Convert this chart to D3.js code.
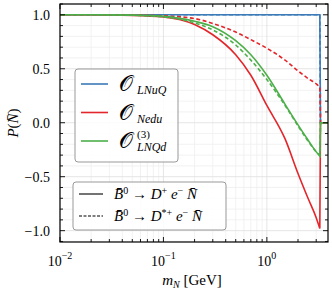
<!DOCTYPE html>
<html>
<head>
<meta charset="utf-8">
<script src="https://cdn.jsdelivr.net/npm/d3@7"></script>
<style>
  body { margin: 0; background: #fff; }
</style>
</head>
<body>
<div id="chart"></div>
<script>
const masses = [0.01, 0.02, 0.05, 0.1, 0.2, 0.3, 0.5, 0.7, 1.0, 1.5, 2.0, 2.5, 3.0, 3.25];
// kinematic end point and the far edge (curves drop to 0 there)
const endMass = [3.3, 3.9];

const lnuqSolid  = [1, 1, 1, 1, 1, 1, 1, 1, 1, 1, 1, 1, 1, 1];
const lnuqDashed = [1, 1, 1, 1, 1, 1, 1, 1, 1, 1, 1, 1, 1, 1];
const neduSolid  = [1.0, 1.0, 0.995, 0.98, 0.91, 0.815, 0.63, 0.44, 0.16, -0.15, -0.47, -0.70, -0.88, -0.98];
const neduDashed = [1.0, 1.0, 0.998, 0.99, 0.965, 0.92, 0.84, 0.77, 0.69, 0.58, 0.48, 0.41, 0.36, 0.33];
const lnqdSolid  = [1.0, 1.0, 0.997, 0.985, 0.94, 0.89, 0.76, 0.63, 0.44, 0.17, -0.02, -0.16, -0.27, -0.31];
const lnqdDashed = [1.0, 1.0, 0.996, 0.98, 0.925, 0.86, 0.72, 0.58, 0.40, 0.16, -0.03, -0.17, -0.27, -0.30];

const yTicks = [1.0, 0.5, 0.0, -0.5, -1.0];
const xTicks = [0.01, 0.1, 1];
const xTickExp = ["−2", "−1", "0"];

const blue = "#3b7bb8", red = "#e3262b", green = "#4daf4a";
const serif = "'Liberation Serif', 'Times New Roman', serif";

var margin = {top: 4, right: 4, bottom: 48, left: 60},
    width = 332 - margin.left - margin.right,
    height = 290 - margin.top - margin.bottom;

var svg = d3.select("#chart").append("svg")
    .attr("width", 332).attr("height", 290)
    .style("font-family", serif);
var g = svg.append("g")
    .attr("transform", "translate(" + margin.left + "," + margin.top + ")");

var x = d3.scaleLog().domain([0.01, 3.9]).range([0, width]);
var y = d3.scaleLinear().domain([-1.105, 1.1]).range([height, 0]);

// minor tick positions
var xMinor = [];
[0.01, 0.1, 1].forEach(function(d) {
  for (var k = 2; k <= 9; k++) { if (d * k <= 3.9) xMinor.push(d * k); }
});
var yMinor = d3.range(-11, 12).map(function(i) { return i / 10; })
  .filter(function(v) { return Math.abs(v * 2 - Math.round(v * 2)) > 1e-6; });

// grid
g.append("g").selectAll("line").data(xMinor).enter().append("line")
  .attr("x1", d => x(d)).attr("x2", d => x(d)).attr("y1", 0).attr("y2", height)
  .attr("stroke", "#efefef").attr("stroke-width", 0.8);
g.append("g").selectAll("line").data(yMinor).enter().append("line")
  .attr("y1", d => y(d)).attr("y2", d => y(d)).attr("x1", 0).attr("x2", width)
  .attr("stroke", "#efefef").attr("stroke-width", 0.8);
g.append("g").selectAll("line").data(xTicks).enter().append("line")
  .attr("x1", d => x(d)).attr("x2", d => x(d)).attr("y1", 0).attr("y2", height)
  .attr("stroke", "#dedede").attr("stroke-width", 0.8);
g.append("g").selectAll("line").data(yTicks).enter().append("line")
  .attr("y1", d => y(d)).attr("y2", d => y(d)).attr("x1", 0).attr("x2", width)
  .attr("stroke", "#dedede").attr("stroke-width", 0.8);

// curves
var line = d3.line().x(d => x(d[0])).y(d => y(d[1])).curve(d3.curveMonotoneX);
var lines = [
  {v: lnuqSolid, c: blue, dash: null},
  {v: lnuqDashed, c: blue, dash: "4,2.5"},
  {v: neduSolid, c: red, dash: null},
  {v: neduDashed, c: red, dash: "4,2.5"},
  {v: lnqdSolid, c: green, dash: null},
  {v: lnqdDashed, c: green, dash: "4,2.5"}
];
g.append("g").selectAll("path").data(lines).enter().append("path")
  .attr("d", function(d) {
    var pts = masses.map(function(m, i) { return [m, d.v[i]]; });
    // smooth part then the sharp drop to zero
    return line(pts) + "L" + x(endMass[0]) + "," + y(0) + "L" + x(endMass[1]) + "," + y(0);
  })
  .attr("fill", "none")
  .attr("stroke", d => d.c)
  .attr("stroke-width", 1.6)
  .attr("stroke-dasharray", d => d.dash);

// frame
g.append("rect").attr("width", width).attr("height", height)
  .attr("fill", "none").attr("stroke", "#000").attr("stroke-width", 1.2);

// ticks on all four sides, pointing in
var tk = g.append("g").attr("stroke", "#000").attr("stroke-width", 0.9);
xTicks.forEach(function(d) {
  tk.append("line").attr("x1", x(d)).attr("x2", x(d)).attr("y1", height).attr("y2", height - 5);
  tk.append("line").attr("x1", x(d)).attr("x2", x(d)).attr("y1", 0).attr("y2", 5);
});
xMinor.forEach(function(d) {
  tk.append("line").attr("x1", x(d)).attr("x2", x(d)).attr("y1", height).attr("y2", height - 3);
  tk.append("line").attr("x1", x(d)).attr("x2", x(d)).attr("y1", 0).attr("y2", 3);
});
yTicks.forEach(function(d) {
  tk.append("line").attr("y1", y(d)).attr("y2", y(d)).attr("x1", 0).attr("x2", 5);
  tk.append("line").attr("y1", y(d)).attr("y2", y(d)).attr("x1", width).attr("x2", width - 5);
});
yMinor.forEach(function(d) {
  tk.append("line").attr("y1", y(d)).attr("y2", y(d)).attr("x1", 0).attr("x2", 3);
  tk.append("line").attr("y1", y(d)).attr("y2", y(d)).attr("x1", width).attr("x2", width - 3);
});

// tick labels
g.append("g").selectAll("text").data(yTicks).enter().append("text")
  .attr("x", -10).attr("y", d => y(d)).attr("dy", "0.35em")
  .attr("text-anchor", "end").attr("font-size", 14)
  .text(d => (d < 0 ? "−" : "") + Math.abs(d).toFixed(1));

var xl = g.append("g").selectAll("text").data(xTicks).enter().append("text")
  .attr("x", d => x(d)).attr("y", height + 24)
  .attr("text-anchor", "middle").attr("font-size", 14);
xl.append("tspan").text("10");
xl.append("tspan").attr("dy", -7).attr("font-size", 10).text((d, i) => xTickExp[i]);

// axis labels
var xlab = g.append("text").attr("x", width / 2 - 2).attr("y", height + 43)
  .attr("text-anchor", "middle").attr("font-size", 15);
xlab.append("tspan").attr("font-style", "italic").text("m");
xlab.append("tspan").attr("font-style", "italic").attr("font-size", 10).attr("dy", 3).text("N");
xlab.append("tspan").attr("dy", -3).text(" [GeV]");

var ylab = g.append("text")
  .attr("transform", "translate(" + (-42) + "," + (height / 2) + ") rotate(-90)")
  .attr("text-anchor", "middle").attr("font-size", 15);
ylab.append("tspan").attr("font-style", "italic").text("P");
ylab.append("tspan").text("(");
ylab.append("tspan").attr("font-style", "italic").text("N\u0304");
ylab.append("tspan").text(")");

// legend 1: operators
var L1 = svg.append("g").attr("transform", "translate(75,69)");
L1.append("rect").attr("width", 103).attr("height", 93).attr("rx", 3)
  .attr("fill", "#fff").attr("fill-opacity", 0.85)
  .attr("stroke", "#999").attr("stroke-width", 1);
var ops = [
  {c: blue, sub: "LNuQ", sup: null},
  {c: red, sub: "Nedu", sup: null},
  {c: green, sub: "LNQd", sup: "(3)"}
];
ops.forEach(function(o, i) {
  var yy = 15 + i * 28.5;
  L1.append("line").attr("x1", 6).attr("x2", 33).attr("y1", yy).attr("y2", yy)
    .attr("stroke", o.c).attr("stroke-width", 1.6);
  L1.append("text").attr("x", 44).attr("y", yy + 7).attr("font-size", 22)
    .text("\u{1D4AA}");
  L1.append("text").attr("x", 62).attr("y", yy + 10).attr("font-size", 12)
    .attr("font-style", "italic").text(o.sub);
  if (o.sup) {
    L1.append("text").attr("x", 62).attr("y", yy - 3).attr("font-size", 11).text(o.sup);
  }
});

// legend 2: decay channels
var L2 = svg.append("g").attr("transform", "translate(73,182)");
L2.append("rect").attr("width", 153).attr("height", 48).attr("rx", 3)
  .attr("fill", "#fff").attr("fill-opacity", 0.85)
  .attr("stroke", "#999").attr("stroke-width", 1);
var chans = [{dash: null, star: ""}, {dash: "3,1.5", star: "*"}];
chans.forEach(function(ch, i) {
  var yy = 12 + i * 22;
  L2.append("line").attr("x1", 6).attr("x2", 30).attr("y1", yy).attr("y2", yy)
    .attr("stroke", "#000").attr("stroke-width", 1.1).attr("stroke-dasharray", ch.dash);
  var t = L2.append("text").attr("x", 41).attr("y", yy + 5).attr("font-size", 15);
  t.append("tspan").attr("font-style", "italic").text("B\u0304");
  t.append("tspan").attr("font-size", 10).attr("dy", -5).text("0");
  t.append("tspan").attr("dy", 5).text(" → ");
  t.append("tspan").attr("font-style", "italic").text("D");
  t.append("tspan").attr("font-size", 10).attr("dy", -5).text(ch.star + "+");
  t.append("tspan").attr("dy", 5).attr("font-style", "italic").text(" e");
  t.append("tspan").attr("font-size", 10).attr("dy", -5).text("−");
  t.append("tspan").attr("dy", 5).attr("font-style", "italic").text(" N\u0304");
});
</script>
</body>
</html>
